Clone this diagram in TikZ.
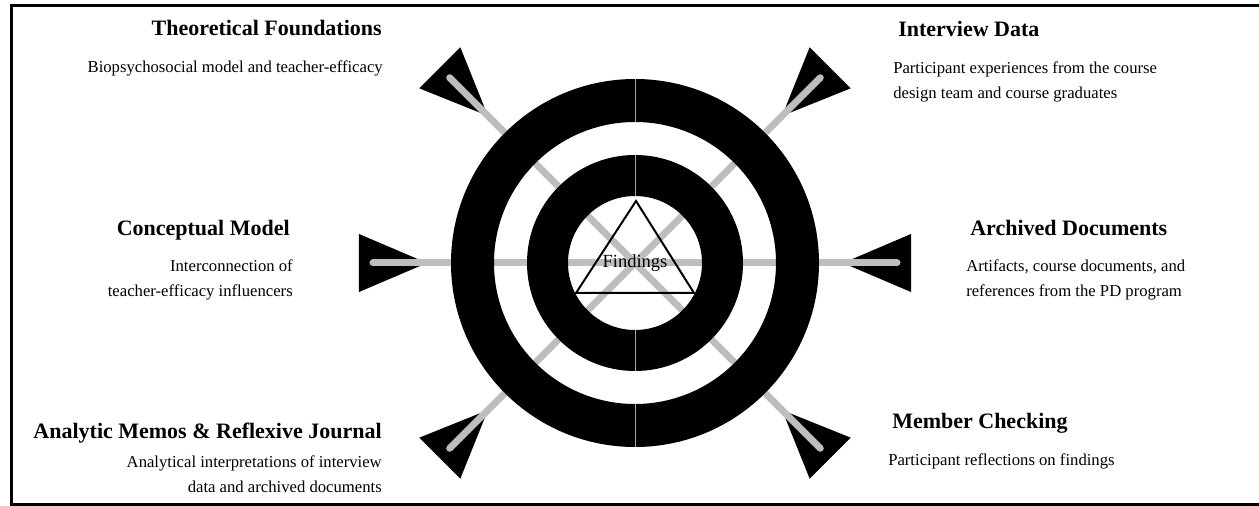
\documentclass[tikz,border=0pt]{standalone}
\usepackage{fontspec}
\setmainfont{Liberation Serif}
\usepackage{tikz}
\usetikzlibrary{calc}
\definecolor{spokegray}{RGB}{190,190,190}

\begin{document}
\begin{tikzpicture}[x=0.75pt,y=0.75pt,
        heading/.style={font=\fontsize{16.5pt}{20pt}\selectfont\bfseries, inner sep=0pt},
        body/.style={font=\fontsize{12.5pt}{18.75pt}\selectfont, inner sep=0pt},
        spoke/.style={draw=spokegray, line width=5.25pt, line cap=round}]
        \useasboundingbox (-635,-243) rectangle (624,263);
        \coordinate (O) at (0,0);

        \draw[line width=2.25pt] (-623.5,257) rectangle (630,-241.5);

        % fletchings
        \foreach \a in {0,45,135,180,225,315}
            \fill[rotate=\a] (208,0) -- (276,29) -- (276,-29) -- cycle;

        \coordinate (E) at (0:262);
        \coordinate (NE) at (45:262);
        \coordinate (NW) at (135:262);
        \coordinate (W) at (180:262);
        \coordinate (SW) at (225:262);
        \coordinate (SE) at (315:262);

        \draw[spoke] (W) -- (E);
        \draw[spoke] (NW) -- (SE);
        \draw[spoke] (NE) -- (SW);

        % rings
        \fill[even odd rule] (O) circle (184) (O) circle (141);
        \fill[even odd rule] (O) circle (108) (O) circle (67);
        \draw[gray!70, line width=0.5pt] (0,141) -- (0,184) (0,67) -- (0,108)
            (0,-67) -- (0,-108) (0,-141) -- (0,-184);

        \coordinate (T1) at (1,62);
        \coordinate (T2) at (59,-30);
        \coordinate (T3) at (-59,-30);
        \draw[line width=1.5pt] (T1) -- (T2) -- (T3) -- cycle;
        \node[font=\fontsize{13.9pt}{16pt}\selectfont, inner sep=0pt] (F) at (O) {Findings};

        \node[heading, anchor=base east] (TF) at (-253,227) {Theoretical Foundations};
        \node[body, anchor=base east, align=right] (TFb) at (-252,190)
            {Biopsychosocial model and teacher-efficacy};

        \node[heading, anchor=base west] (ID) at (263,226) {Interview Data};
        \node[body, anchor=base west, align=left] (IDb) at (258,164)
            {Participant experiences from the course\\design team and course graduates};

        \node[heading, anchor=base east] (CM) at (-345,27) {Conceptual Model};
        \node[body, anchor=base east, align=right] (CMb) at (-342,-34)
            {Interconnection of\\teacher-efficacy influencers};

        \node[heading, anchor=base west] (AD) at (335,27) {Archived Documents};
        \node[body, anchor=base west, align=left] (ADb) at (331,-34)
            {Artifacts, course documents, and\\references from the PD program};

        \node[heading, anchor=base east] (AM) at (-253,-175) {Analytic Memos \& Reflexive Journal};
        \node[body, anchor=base east, align=right] (AMb) at (-253,-229)
            {Analytical interpretations of interview\\data and archived documents};

        \node[heading, anchor=base west] (MC) at (257,-165) {Member Checking};
        \node[body, anchor=base west, align=left] (MCb) at (253,-202)
            {Participant reflections on findings};
\end{tikzpicture}
\end{document}
